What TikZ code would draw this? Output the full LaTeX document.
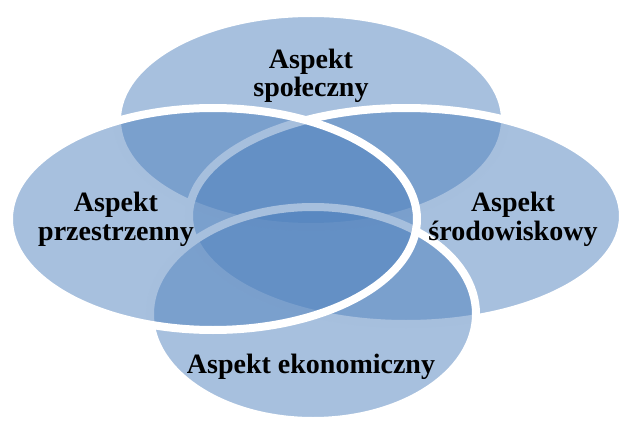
\documentclass[tikz,border=0pt]{standalone}
\usepackage{fontspec}
\setmainfont{Liberation Serif}
\usetikzlibrary{shapes.geometric}
\definecolor{vennblue}{HTML}{4F81BD}
\begin{document}
\begin{tikzpicture}[x=1pt,y=-1pt,
  venn/.style={ellipse, inner sep=0pt, draw=white, line width=8pt,
    fill=vennblue, fill opacity=0.5},
  label/.style={font=\fontsize{28}{28.5}\selectfont\bfseries, align=center,
    inner sep=0pt, text=black, anchor=base}]
\useasboundingbox (0,0) rectangle (623,422);
\node[venn, minimum width=388pt, minimum height=214pt] (spol) at (311,120) {};
\node[venn, minimum width=434pt, minimum height=216pt] (srod) at (406,216) {};
\node[venn, minimum width=326pt, minimum height=214pt] (ekon) at (313,314) {};
\node[venn, minimum width=408pt, minimum height=222pt] (przest) at (213,219) {};
\node[label] (tspol) at (311,97) {Aspekt\\społeczny};
\node[label] (tprzest) at (116,240) {Aspekt\\przestrzenny};
\node[label] (tsrod) at (513,240) {Aspekt\\środowiskowy};
\node[label] (tekon) at (311,373) {Aspekt ekonomiczny};
\end{tikzpicture}
\end{document}
